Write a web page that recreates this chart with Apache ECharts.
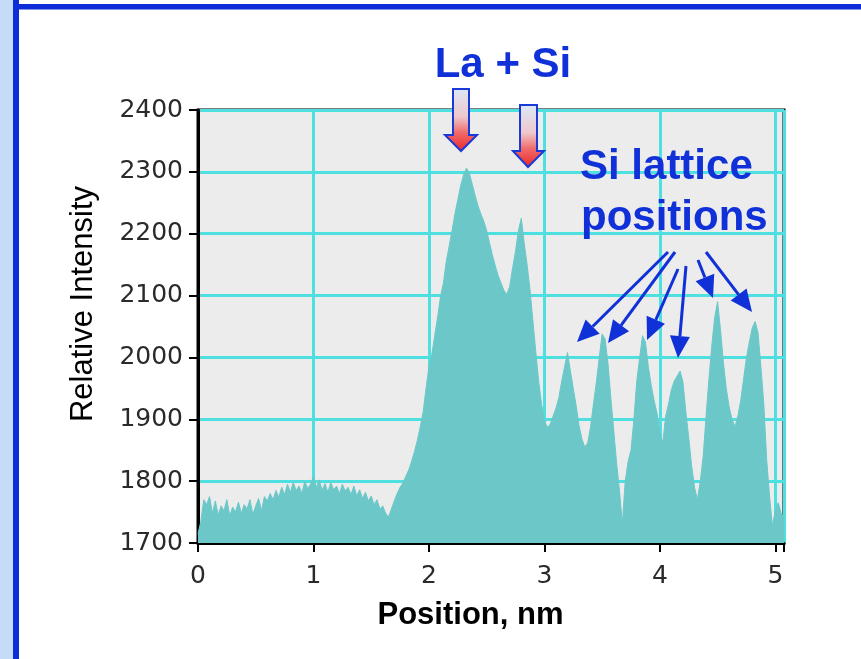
<!DOCTYPE html>
<html>
<head>
<meta charset="utf-8">
<script src="https://cdn.jsdelivr.net/npm/echarts@6/dist/echarts.min.js"></script>
<style>
html,body{margin:0;padding:0;background:#ffffff;}
#chart{width:861px;height:659px;}
</style>
</head>
<body>
<div id="chart"></div>
<script>
// Sample positions along the line profile (nm)
const positions = [
  0,0.025,0.05,0.075,0.1,0.125,0.15,0.175,0.2,0.225,
  0.25,0.275,0.3,0.325,0.35,0.375,0.4,0.425,0.45,0.475,
  0.5,0.525,0.55,0.575,0.6,0.625,0.65,0.675,0.7,0.725,
  0.75,0.775,0.8,0.825,0.85,0.875,0.9,0.925,0.95,0.975,
  1,1.025,1.05,1.075,1.1,1.125,1.15,1.175,1.2,1.225,
  1.25,1.275,1.3,1.325,1.35,1.375,1.4,1.425,1.45,1.475,
  1.5,1.525,1.55,1.575,1.6,1.625,1.65,1.675,1.7,1.725,
  1.75,1.775,1.8,1.825,1.85,1.875,1.9,1.925,1.95,1.975,
  2,2.025,2.05,2.075,2.1,2.125,2.15,2.175,2.2,2.225,
  2.25,2.275,2.3,2.325,2.35,2.375,2.4,2.425,2.45,2.475,
  2.5,2.525,2.55,2.575,2.6,2.625,2.65,2.675,2.7,2.725,
  2.75,2.775,2.8,2.825,2.85,2.875,2.9,2.925,2.95,2.975,
  3,3.025,3.05,3.075,3.1,3.125,3.15,3.175,3.2,3.225,
  3.25,3.275,3.3,3.325,3.35,3.375,3.4,3.425,3.45,3.475,
  3.5,3.525,3.55,3.575,3.6,3.625,3.65,3.675,3.7,3.725,
  3.75,3.775,3.8,3.825,3.85,3.875,3.9,3.925,3.95,3.975,
  4,4.025,4.05,4.075,4.1,4.125,4.15,4.175,4.2,4.225,
  4.25,4.275,4.3,4.325,4.35,4.375,4.4,4.425,4.45,4.475,
  4.5,4.525,4.55,4.575,4.6,4.625,4.65,4.675,4.7,4.725,
  4.75,4.775,4.8,4.825,4.85,4.875,4.9,4.925,4.95,4.975,
  5,5.025,5.05,5.075
];

// Relative intensity
const intensity = [
  1715,1735,1770,1762,1775,1748,1768,1745,1760,1752,
  1770,1744,1758,1750,1766,1748,1762,1755,1770,1746,
  1760,1772,1752,1775,1768,1780,1770,1785,1774,1790,
  1778,1795,1782,1798,1785,1792,1780,1800,1788,1795,
  1808,1790,1802,1785,1796,1782,1798,1786,1792,1780,
  1795,1784,1790,1778,1792,1776,1786,1772,1782,1768,
  1776,1762,1770,1755,1760,1748,1742,1755,1768,1780,
  1790,1797,1808,1818,1832,1848,1866,1888,1912,1950,
  1985,2005,2035,2065,2098,2120,2155,2180,2205,2232,
  2255,2278,2295,2306,2298,2280,2262,2245,2232,2220,
  2205,2185,2165,2148,2132,2120,2108,2102,2115,2145,
  2172,2205,2225,2185,2150,2110,2060,2010,1962,1925,
  1898,1887,1892,1905,1918,1935,1962,1985,2008,1978,
  1950,1922,1890,1868,1855,1862,1888,1925,1960,2000,
  2038,2030,1992,1935,1883,1830,1785,1732,1800,1832,
  1850,1900,1962,2000,2035,2025,1985,1955,1930,1910,
  1880,1862,1905,1925,1948,1962,1970,1978,1960,1912,
  1870,1825,1790,1770,1800,1840,1905,1965,2020,2065,
  2090,2045,1992,1950,1920,1900,1888,1905,1930,1965,
  2000,2025,2048,2058,2040,1985,1925,1835,1775,1728,
  1752,1765,1748,1740
];

const xTickLabels = ['0','1','2','3','4','5'];
const yTickLabels = ['1700','1800','1900','2000','2100','2200','2300','2400'];

const xTitle = 'Position, nm';
const yTitle = 'Relative Intensity';

const seriesData = positions.map((p, i) => [p, intensity[i]]);

const BLUE = '#1030d8';
const TEAL = '#6cc8c8';
const GRIDCYAN = '#4ee0e0';

// Pointer lines from the "Si lattice positions" label: [x1,y1,x2(tip),y2(tip)]
const pointers = [
  [668,252,577,342],
  [675,252,608,343],
  [678,269,647,340],
  [686,266,678,358],
  [698,260,713,298],
  [706,252,752,312]
];

function pointerElements() {
  const els = [];
  const L = 22, W = 10;
  pointers.forEach(p => {
    const [x1,y1,x2,y2] = p;
    const dx = x2 - x1, dy = y2 - y1;
    const len = Math.sqrt(dx*dx + dy*dy);
    const ux = dx/len, uy = dy/len;
    const bx = x2 - ux*L, by = y2 - uy*L;
    const nx = -uy, ny = ux;
    els.push({type:'line', silent:true, z:100,
      shape:{x1:x1,y1:y1,x2:bx,y2:by},
      style:{stroke:BLUE, lineWidth:3}});
    els.push({type:'polygon', silent:true, z:100,
      shape:{points:[[x2,y2],[bx+nx*W,by+ny*W],[bx-nx*W,by-ny*W]]},
      style:{fill:BLUE}});
  });
  return els;
}

function blockArrow(sl, sr, top, headY, hl, hr, tipX, tipY) {
  return {type:'polygon', silent:true, z:100,
    shape:{points:[[sl,top],[sr,top],[sr,headY],[hr,headY],[tipX,tipY],[hl,headY],[sl,headY]]},
    style:{
      fill:{type:'linear', x:0, y:0, x2:0, y2:1, colorStops:[
        {offset:0, color:'#dce8f8'},
        {offset:0.45, color:'#eec8cc'},
        {offset:0.7, color:'#f06a6a'},
        {offset:1, color:'#ec2424'}
      ]},
      stroke:'#1a3ad8', lineWidth:2
    }};
}

const chart = echarts.init(document.getElementById('chart'), null, {renderer:'canvas'});

chart.setOption({
  animation:false,
  backgroundColor:'#ffffff',
  grid:{
    left:198, top:110, right:77, bottom:116,
    show:true, backgroundColor:'#ececec', borderColor:'#000000', borderWidth:3,
    containLabel:false
  },
  xAxis:{
    type:'value', min:0, max:5.075, interval:1,
    name:xTitle, nameLocation:'middle', nameGap:57,
    nameTextStyle:{fontFamily:'Liberation Sans, Arial, sans-serif', fontWeight:'bold', fontSize:31, color:'#000', padding:[0,41,0,0]},
    axisLine:{show:true, onZero:false, lineStyle:{color:'#000', width:3}},
    axisTick:{show:true, inside:false, length:9, lineStyle:{color:'#000', width:2}},
    axisLabel:{
      margin:21, fontFamily:'DejaVu Sans', fontSize:25, color:'#2a2a2a',
      formatter:v => {
        const i = xTickLabels.indexOf(String(v));
        return i >= 0 ? xTickLabels[i] : '';
      }
    },
    splitLine:{show:true, lineStyle:{color:GRIDCYAN, width:3}}
  },
  yAxis:{
    type:'value', min:1700, max:2400, interval:100,
    name:yTitle, nameLocation:'middle', nameRotate:90, nameGap:99,
    nameTextStyle:{fontFamily:'Liberation Sans, Arial, sans-serif', fontSize:31, color:'#000', padding:[0,0,0,45]},
    axisLine:{show:true, onZero:false, lineStyle:{color:'#000', width:3}},
    axisTick:{show:true, inside:false, length:9, lineStyle:{color:'#000', width:2}},
    axisLabel:{
      margin:15, fontFamily:'DejaVu Sans', fontSize:25, color:'#2a2a2a',
      formatter:v => {
        const i = yTickLabels.indexOf(String(v));
        return i >= 0 ? yTickLabels[i] : '';
      }
    },
    splitLine:{show:true, lineStyle:{color:GRIDCYAN, width:3}}
  },
  series:[{
    type:'line',
    data:seriesData,
    showSymbol:false,
    symbol:'none',
    smooth:false,
    lineStyle:{color:TEAL, width:1},
    areaStyle:{color:TEAL, opacity:1, origin:'start'},
    z:2
  }],
  graphic:[
    // slide frame
    {type:'rect', silent:true, z:50, shape:{x:0,y:0,width:13,height:659}, style:{fill:'#c4dcf7'}},
    {type:'rect', silent:true, z:51, shape:{x:13,y:0,width:6,height:659}, style:{fill:'#0c2dd8'}},
    {type:'rect', silent:true, z:51, shape:{x:13,y:4,width:848,height:5.5}, style:{fill:'#0c2dd8'}},
    // annotations
    {type:'text', silent:true, z:100, style:{text:'La + Si', x:503, y:65.4,
      font:'bold 42px "Liberation Sans", Arial, sans-serif', fill:BLUE,
      textAlign:'center', textVerticalAlign:'middle', align:'center', verticalAlign:'middle'}},
    {type:'text', silent:true, z:100, style:{text:'Si lattice', x:580, y:167.4,
      font:'bold 42px "Liberation Sans", Arial, sans-serif', fill:BLUE,
      textAlign:'left', textVerticalAlign:'middle', align:'left', verticalAlign:'middle'}},
    {type:'text', silent:true, z:100, style:{text:'positions', x:581, y:218.4,
      font:'bold 42px "Liberation Sans", Arial, sans-serif', fill:BLUE,
      textAlign:'left', textVerticalAlign:'middle', align:'left', verticalAlign:'middle'}},
    blockArrow(453,469,89,135,445,477,461,151),
    blockArrow(520,537,105,151,513,544,528,167)
  ].concat(pointerElements())
});
</script>
</body>
</html>
